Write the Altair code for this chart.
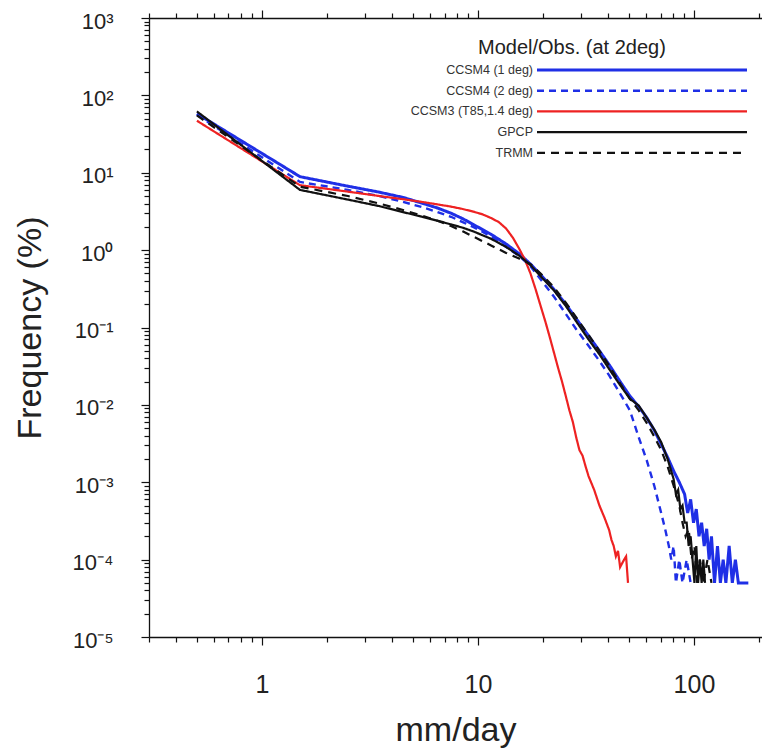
import altair as alt
import pandas as pd

# ---------------- data ----------------
SERIES = ["CCSM4 (1 deg)", "CCSM4 (2 deg)", "CCSM3 (T85,1.4 deg)", "GPCP", "TRMM"]
COLORS = ["#1f2fe6", "#1f2fe6", "#ee2222", "#111111", "#111111"]
DASHES = [[1, 0], [7, 5], [1, 0], [1, 0], [8, 6]]
WIDTHS = [3, 2.4, 2.2, 2.2, 2.2]

X_MAIN = [0.5, 1.5, 2.5, 3.5, 4.5, 5.5, 6.5, 7.5, 8.5, 9.5, 11.5, 13.5, 15.5, 17.5,
          19.5, 22.5, 25.5, 28.5, 32.5, 36.5, 40.5, 45.5, 50.5, 55.5, 60.5, 65.5,
          70.5, 75.5, 80.5]

ccsm4_1_x = X_MAIN + [85.5, 90.5, 93.5, 96.5, 99.5, 102.5, 105.5, 108.5, 111.5, 114.5,
                      117.5, 120.5, 124.5, 128.5, 132.5, 136.5, 140.5, 145.5, 150.5,
                      155.5, 160.5, 170.5, 178.5]
ccsm4_1_y = [58, 8.9, 6.7, 5.6, 4.8, 4.05, 3.5, 3.0, 2.55, 2.15, 1.6, 1.2, 0.9, 0.66,
             0.48, 0.31, 0.2, 0.13, 0.078, 0.05, 0.033, 0.02, 0.013, 0.0095, 0.0068,
             0.0047, 0.0031, 0.0021, 0.0014,
             0.001, 7e-4, 4e-4, 6e-4, 3e-4, 4.5e-4, 2e-4, 3e-4, 1.5e-4, 2.5e-4, 1e-4,
             2e-4, 5e-5, 1.5e-4, 5e-5, 1e-4, 5e-5, 1.5e-4, 5e-5, 1e-4, 5e-5, 5e-5, 5e-5]

ccsm4_2_x = [0.5, 1.5, 2.5, 3.5, 4.5, 5.5, 6.5, 7.5, 8.5, 9.5, 11.5, 13.5, 15.5, 17.5,
             19.5, 22.5, 25.5, 28.5, 32.5, 36.5, 40.5, 45.5, 50.5, 55.5, 60.5, 65.5,
             70.5, 73.5, 76.5, 78.5, 80.5, 82.5, 85.5, 88.5, 92.5, 96.5]
ccsm4_2_y = [56, 7.6, 6.0, 5.0, 4.2, 3.6, 3.1, 2.7, 2.3, 2.0, 1.5, 1.1, 0.84, 0.62,
             0.42, 0.25, 0.15, 0.095, 0.058, 0.037, 0.024, 0.014, 0.0085, 0.0038,
             0.0019, 9e-4, 4e-4, 2.5e-4, 1.5e-4, 1e-4, 1.5e-4, 5e-5, 1e-4, 5e-5, 1e-4, 5e-5]

ccsm3_x = [0.5, 1.5, 2.5, 3.5, 4.5, 5.5, 6.5, 7.5, 8.5, 9.5, 10.5, 11.5, 12.5, 13.5,
           14.5, 15.5, 16.5, 17.5, 18.5, 19.5, 20.5, 21.5, 22.5, 23.5, 24.5, 25.5, 26.5,
           27.5, 28.5, 29.5, 30.5, 31.5, 32.5, 34.5, 36.5, 38.5, 40.5, 41.5, 42.5, 43.5,
           44.5, 45.5, 47.5, 48.5, 49.5]
ccsm3_y = [47, 6.9, 5.7, 5.0, 4.55, 4.2, 3.9, 3.65, 3.4, 3.15, 2.9, 2.6, 2.3, 1.9, 1.45,
           1.05, 0.75, 0.5, 0.31, 0.19, 0.12, 0.075, 0.047, 0.03, 0.02, 0.013, 0.0085,
           0.006, 0.0038, 0.0026, 0.0022, 0.0016, 0.0012, 8e-4, 5e-4, 3.5e-4, 2.4e-4,
           1.8e-4, 1.5e-4, 1.1e-4, 1.3e-4, 8e-5, 1e-4, 1.1e-4, 5e-5]

gpcp_x = X_MAIN + [82.5, 84.5, 86.5, 88.5, 90.5, 92.5, 94.5, 96.5, 98.5, 100.5, 102.5,
                   104.5, 106.5, 108.5, 110.5, 112.5]
gpcp_y = [62, 6.0, 4.5, 3.7, 3.1, 2.7, 2.4, 2.15, 1.95, 1.75, 1.4, 1.1, 0.85, 0.64, 0.46,
          0.3, 0.19, 0.12, 0.07, 0.045, 0.029, 0.018, 0.012, 0.0098, 0.0068, 0.0048,
          0.0033, 0.002, 0.0011,
          7e-4, 8e-4, 4.5e-4, 5e-4, 3e-4, 3e-4, 1.5e-4, 2e-4, 1e-4, 5e-5, 1.5e-4, 5e-5,
          1e-4, 5e-5, 1e-4, 5e-5]

trmm_x = X_MAIN + [85.5, 88.5, 91.5, 94.5, 97.5, 100.5, 103.5, 106.5, 110.5, 115.5, 120.5]
trmm_y = [55, 6.6, 5.0, 4.0, 3.3, 2.8, 2.4, 2.05, 1.75, 1.5, 1.15, 0.92, 0.78, 0.66, 0.5,
          0.33, 0.21, 0.135, 0.08, 0.05, 0.032, 0.019, 0.012, 0.0085, 0.0058, 0.0039,
          0.0026, 0.0016, 9e-4,
          5e-4, 3e-4, 2e-4, 2.5e-4, 1e-4, 1.5e-4, 5e-5, 1e-4, 5e-5, 1e-4, 5e-5]

XY = [(ccsm4_1_x, ccsm4_1_y), (ccsm4_2_x, ccsm4_2_y), (ccsm3_x, ccsm3_y),
      (gpcp_x, gpcp_y), (trmm_x, trmm_y)]

rows = []
for i, (name, (xs, ys)) in enumerate(zip(SERIES, XY)):
    assert len(xs) == len(ys), name
    for j, (a, b) in enumerate(zip(xs, ys)):
        rows.append({"series": name, "s": i, "i": j, "x": a, "y": b})
df = pd.DataFrame(rows)

# tick positions (log axes)
XTICKS = [round(m * 10 ** k, 6) for k in (-1, 0, 1, 2) for m in range(1, 10)
          if 0.3 <= m * 10 ** k <= 206.5]
YTICKS = [float(f"{m}e{k}") for k in range(-5, 3) for m in range(1, 10)] + [1000.0]

FONT = "Liberation Sans"
MAJ_X = "datum.value == 1 || datum.value == 10 || datum.value == 100"
LOGV = "(log(datum.value)/LN10)"
MAJ_Y = f"abs({LOGV} - round({LOGV})) < 0.001"
SUP = ("replace(replace(replace(replace(replace(replace(replace(''+round(" + LOGV +
       "),'-','\u207b'),'0','\u2070'),'1','\u00b9'),'2','\u00b2'),'3','\u00b3'),"
       "'4','\u2074'),'5','\u2075')")

xscale = alt.Scale(type="log", domain=[0.3, 206.5], nice=False)
yscale = alt.Scale(type="log", domain=[1e-5, 1e3], nice=False)

legend = alt.Legend(
    title="Model/Obs. (at 2deg)", orient="none", legendX=329, legendY=19.5,
    padding=0, titleFont=FONT, titleFontSize=20, titleFontWeight="normal",
    titleColor="#222222", titleAnchor="start", titlePadding=3, titleLimit=400,
    labelFont=FONT, labelFontSize=12.5, labelColor="#333333", labelAlign="right",
    labelOffset=alt.ExprRef(expr="-118.5"), labelLimit=300,
    symbolType="M-13.125,0H13.125", symbolSize=256, symbolOffset=154.5, rowPadding=4.7,
)

xaxis_bottom = alt.Axis(
    orient="bottom", values=XTICKS, labelExpr=f"({MAJ_X}) ? format(datum.value, 'd') : ''",
    tickSize={"condition": {"test": MAJ_X, "value": 8}, "value": 5},
    tickColor="#111111", domainColor="#111111", domainWidth=1.3, tickWidth=1.2,
    labelFont=FONT, labelFontSize=25, labelColor="#222222", labelPadding=27,
    labelOverlap=False, labelFlush=False, grid=False,
    title="mm/day", titleFont=FONT, titleFontSize=34, titleFontWeight="normal",
    titleColor="#222222", titleX=306.5, titleY=93, titleBaseline="middle",
)
xaxis_top = alt.Axis(
    orient="top", values=XTICKS, labels=False,
    tickSize={"condition": {"test": MAJ_X, "value": 8}, "value": 5},
    tickColor="#111111", domainColor="#111111", domainWidth=1.3, tickWidth=1.2,
    grid=False, title=None,
)
yaxis_left = alt.Axis(
    orient="left", values=YTICKS, labelExpr=f"({MAJ_Y}) ? '10' + {SUP} : ''",
    tickSize={"condition": {"test": MAJ_Y, "value": 8}, "value": 5},
    tickColor="#111111", domainColor="#111111", domainWidth=1.3, tickWidth=1.2,
    labelFont=FONT, labelFontSize=22, labelColor="#222222", labelPadding=28,
    labelOffset=3, labelOverlap=False, labelFlush=False, grid=False,
    title="Frequency (%)", titleFont=FONT, titleFontSize=34, titleFontWeight="normal",
    titleColor="#222222", titleAngle=270, titleX=-119, titleY=309.5,
    titleBaseline="middle", titleAlign="center",
)

lines = alt.Chart(df).mark_line(clip=True).encode(
    x=alt.X("x:Q", scale=xscale, axis=xaxis_bottom),
    y=alt.Y("y:Q", scale=yscale, axis=yaxis_left),
    color=alt.Color("series:N", scale=alt.Scale(domain=SERIES, range=COLORS), legend=legend),
    strokeDash=alt.StrokeDash("series:N", scale=alt.Scale(domain=SERIES, range=DASHES), legend=legend),
    strokeWidth=alt.StrokeWidth("series:N", scale=alt.Scale(type="ordinal", domain=SERIES, range=WIDTHS), legend=legend),
    order=alt.Order("i:Q"),
    detail="s:N",
)

top_axis = alt.Chart(df).mark_line(opacity=0).encode(
    x=alt.X("x:Q", scale=xscale, axis=xaxis_top),
    y=alt.Y("y:Q", scale=yscale, axis=None),
    detail="s:N",
)

chart = alt.layer(lines, top_axis).resolve_axis(x="independent", y="independent").properties(
    width=613, height=619,
    autosize=alt.AutoSizeParams(type="none"),
    padding={"left": 149, "top": 18, "right": 0, "bottom": 112},
    background="white",
).configure_view(stroke=None)

chart.save("out.html", embed_options={"renderer": "svg", "actions": False})
